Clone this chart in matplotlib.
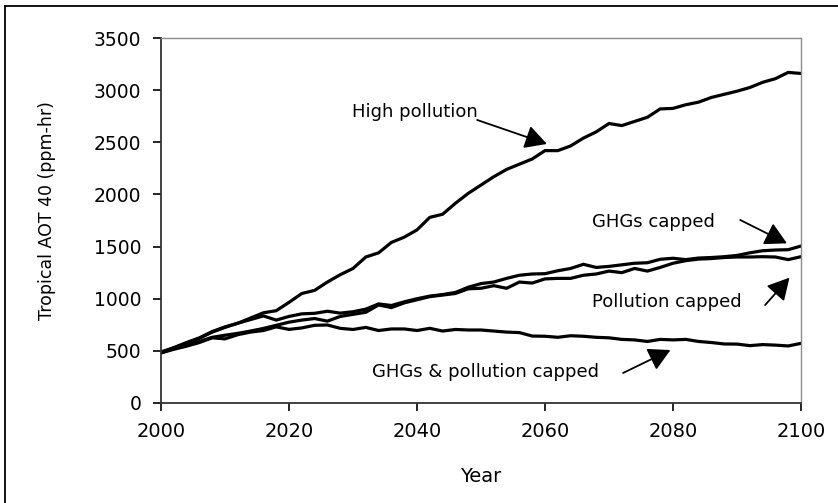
import matplotlib
matplotlib.use("Agg")
import matplotlib.pyplot as plt
from matplotlib.lines import Line2D

plt.rcParams['font.family'] = ['DejaVu Sans']

years = list(range(2000, 2101, 2))

high_pollution = [480, 530, 580, 625, 685, 730, 765, 815, 865, 885,
                  965, 1050, 1080, 1160, 1230, 1290, 1400, 1440, 1540, 1590,
                  1660, 1780, 1810, 1915, 2010, 2090, 2170, 2240, 2290, 2340,
                  2420, 2420, 2465, 2540, 2600, 2680, 2660, 2700, 2740, 2820,
                  2825, 2860, 2885, 2930, 2960, 2990, 3025, 3075, 3110, 3170,
                  3160]

ghgs_capped = [490, 530, 575, 620, 680, 725, 765, 800, 835, 795,
               830, 855, 860, 880, 862, 875, 900, 950, 935, 970,
               1000, 1025, 1040, 1060, 1110, 1145, 1160, 1195, 1225, 1237,
               1240, 1268, 1290, 1330, 1300, 1310, 1325, 1340, 1345, 1378,
               1388, 1375, 1390, 1395, 1403, 1415, 1440, 1460, 1467, 1470,
               1505]

pollution_capped = [485, 520, 555, 590, 630, 650, 668, 690, 715, 745,
                    775, 795, 810, 785, 830, 850, 870, 940, 915, 960,
                    990, 1020, 1035, 1050, 1095, 1100, 1125, 1100, 1160, 1150,
                    1190, 1195, 1195, 1225, 1237, 1265, 1250, 1290, 1265, 1300,
                    1340, 1365, 1380, 1385, 1395, 1400, 1400, 1403, 1400, 1375,
                    1403]

both_capped = [480, 515, 545, 580, 625, 615, 655, 680, 695, 730,
               706, 720, 745, 748, 716, 705, 725, 695, 710, 710,
               695, 716, 690, 705, 700, 700, 690, 680, 675, 642,
               640, 630, 645, 640, 630, 625, 610, 605, 590, 610,
               605, 610, 590, 580, 566, 565, 550, 560, 555, 547,
               572]

x_ticks = [2000, 2020, 2040, 2060, 2080, 2100]
y_ticks = [0, 500, 1000, 1500, 2000, 2500, 3000, 3500]

fig = plt.figure(figsize=(8.38, 5.03), dpi=100)
ax = fig.add_axes([161/838, 1-403/503, 640/838, 365/503])

for s in (high_pollution, ghgs_capped, pollution_capped, both_capped):
    ax.plot(years, s, color='black', lw=2.3, solid_joinstyle='miter')

ax.set_xlim(2000, 2100)
ax.set_ylim(0, 3500)
ax.set_xticks(x_ticks)
ax.set_yticks(y_ticks)
ax.tick_params(axis='x', direction='out', length=6, width=1.2, labelsize=14, pad=8, colors='black')
ax.tick_params(axis='y', direction='out', length=6, width=1.2, labelsize=13.5, pad=8, colors='black')

for side in ('left', 'bottom'):
    ax.spines[side].set_color('#333333')
    ax.spines[side].set_linewidth(1.3)
for side in ('top', 'right'):
    ax.spines[side].set_color('#8c8c8c')
    ax.spines[side].set_linewidth(1.0)

ax.set_xlabel('Year', fontsize=14)
ax.xaxis.set_label_coords(0.5, -0.175)
ax.set_ylabel('Tropical AOT 40 (ppm-hr)', fontsize=12.5)
ax.yaxis.set_label_coords(-0.164, 0.526)

txt = dict(fontsize=13, ha='left', va='baseline', color='black')
ax.text(2029.8, 2745, 'High pollution', **txt)
ax.text(2067.3, 1690, 'GHGs capped', **txt)
ax.text(2067.3, 923, 'Pollution capped', **txt)
ax.text(2033.0, 246, 'GHGs & pollution capped', **txt)

arw = dict(arrowstyle='-|>,head_length=0.7,head_width=0.38', color='black', lw=1.3,
           shrinkA=0, shrinkB=0, mutation_scale=19)
ax.annotate('', xy=(2060.3, 2484), xytext=(2049.4, 2714), arrowprops=arw)
ax.annotate('', xy=(2097.8, 1531), xytext=(2090.5, 1755), arrowprops=arw)
ax.annotate('', xy=(2098.2, 1202), xytext=(2094.4, 940), arrowprops=arw)
ax.annotate('', xy=(2079.6, 508), xytext=(2072.2, 288), arrowprops=arw)

# outer frame (left and top edges visible)
fig.add_artist(Line2D([5/838, 1.0], [1-6/503, 1-6/503], transform=fig.transFigure,
                      color='black', lw=1.3))
fig.add_artist(Line2D([5/838, 5/838], [0.0, 1-6/503], transform=fig.transFigure,
                      color='black', lw=1.3))

fig.savefig('out.png', dpi=100)
